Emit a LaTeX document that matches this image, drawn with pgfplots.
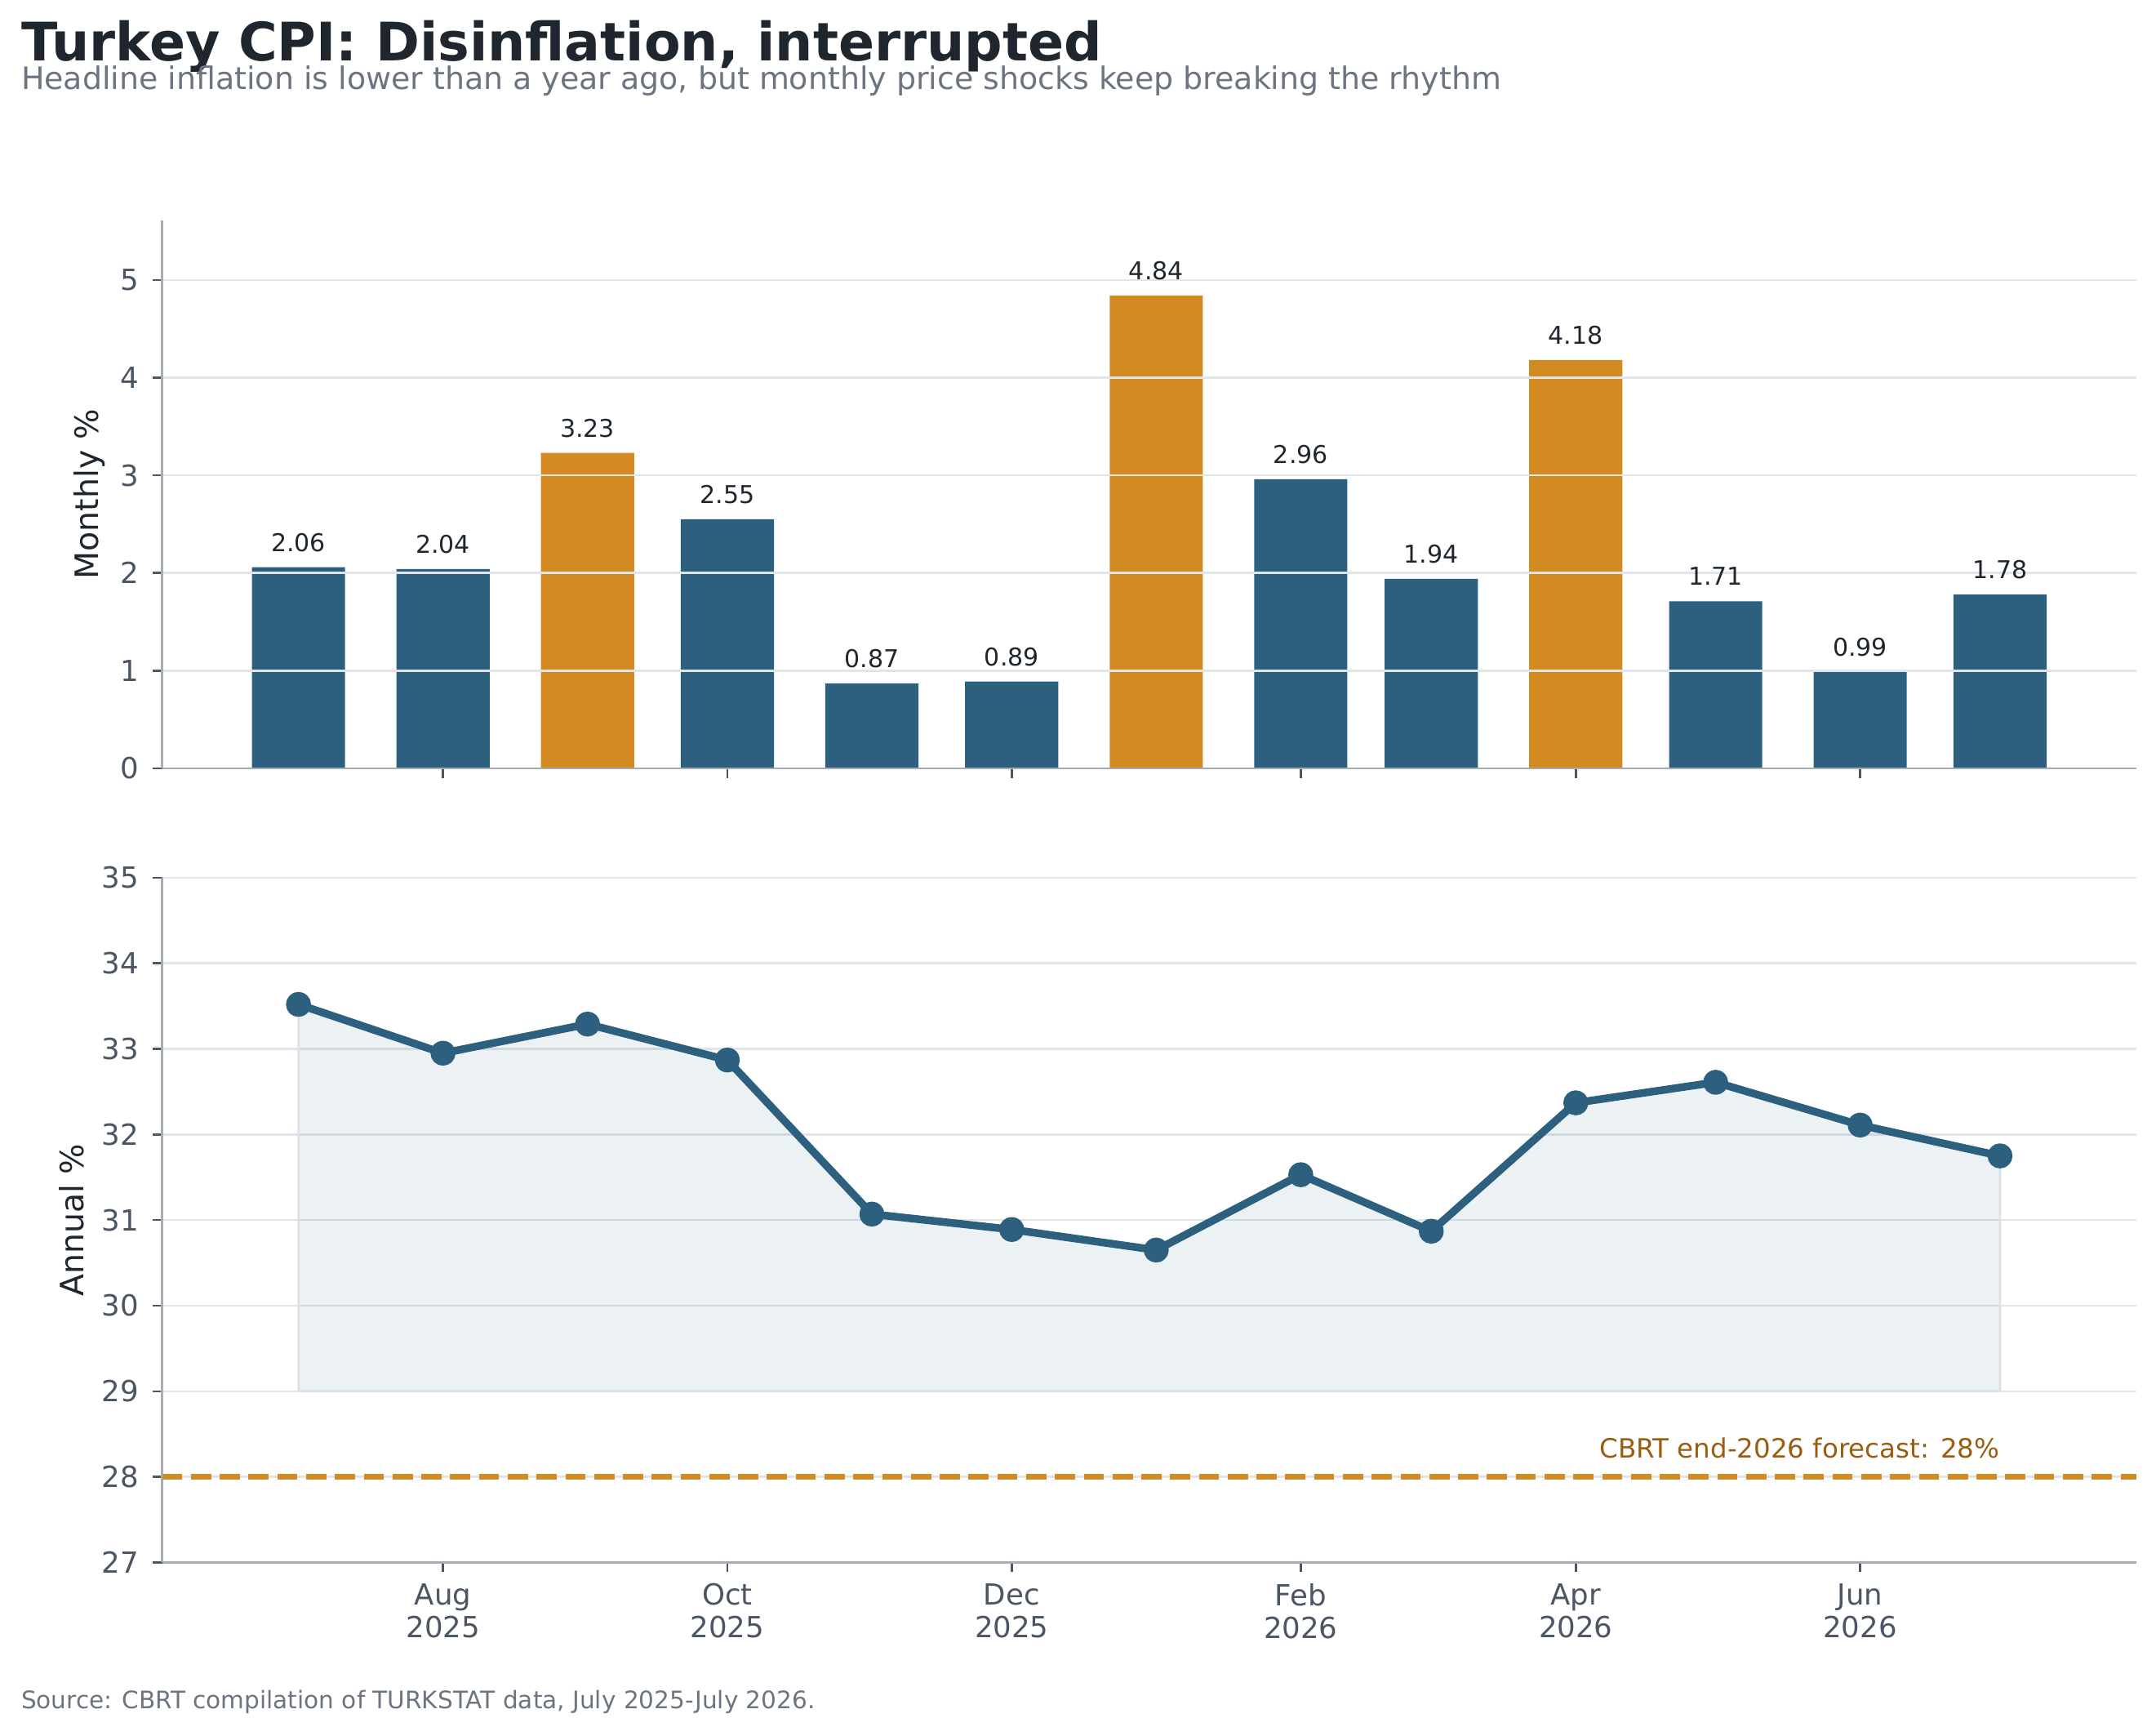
\documentclass[border=0pt]{standalone}
\usepackage{fontspec}
\setmainfont{DejaVu Sans}
\usepackage{pgfplots}
\pgfplotsset{compat=1.18}
\usepackage{pgfplotstable}
\pgfplotsset{/pgf/number format/assume math mode=true}
\definecolor{barblue}{HTML}{2D5F7F}
\definecolor{barorange}{HTML}{D38A21}
\definecolor{gridc}{HTML}{E1E5E9}
\definecolor{spinec}{HTML}{A6ACB3}
\definecolor{tickc}{HTML}{4B5563}
\definecolor{titlec}{HTML}{1F262E}
\definecolor{subc}{HTML}{6B7480}
\definecolor{filledge}{HTML}{DCE2E8}
\definecolor{annc}{HTML}{9A5D10}

% days since 1 Jul 2025
\pgfplotstableread{
x m
0 2.06
31 2.04
92 2.55
123 0.87
153 0.89
215 2.96
243 1.94
304 1.71
335 0.99
365 1.78
}\mblue
\pgfplotstableread{
x m
62 3.23
184 4.84
274 4.18
}\morange
\pgfplotstableread{
x a
0 33.52
31 32.95
62 33.29
92 32.87
123 31.07
153 30.89
184 30.65
215 31.53
243 30.87
274 32.37
304 32.61
335 32.11
365 31.75
}\annual

\pgfplotsset{
  cpibase/.style={
    scale only axis, anchor=south west, width=870.6pt,
    xmin=-29.25, xmax=394.25,
    axis x line*=bottom, axis y line*=left,
    axis line style={-, spinec, line width=0.9pt},
    ymajorgrids, xmajorgrids=false,
    major grid style={gridc, line width=0.9pt},
    tick align=outside, major tick length=4.3pt,
    tick style={tickc, line width=0.9pt},
    xtick={31,92,153,215,274,335},
    yticklabel style={anchor=east, inner sep=0pt, xshift=-5.9pt, font=\fontsize{12.8}{15}\selectfont, text=tickc},
  },
}

\begin{document}
\begin{tikzpicture}
\useasboundingbox (0,0) rectangle (950.76pt,765.36pt);

\node[anchor=base west, inner sep=0pt, font=\fontsize{23.4}{28}\selectfont\bfseries, text=titlec] at (9.2pt,738.4pt) {Turkey CPI: Disinflation, interrupted};
\node[anchor=base west, inner sep=0pt, font=\fontsize{13.65}{16}\selectfont, text=subc] at (9.2pt,725.8pt) {Headline inflation is lower than a year ago, but monthly price shocks keep breaking the rhythm};
\node[anchor=base west, inner sep=0pt, font=\fontsize{10.63}{13}\selectfont, text=subc] at (9.2pt,11.9pt) {Source: CBRT compilation of TURKSTAT data, July 2025-July 2026.};

\begin{axis}[cpibase,
  at={(71.5pt,426.6pt)}, height=241.6pt,
  axis on top,
  ymin=0, ymax=5.61, ytick={0,1,2,3,4,5},
  xticklabels={},
  ylabel={Monthly \%},
  every axis y label/.style={at={(axis description cs:-0.0369,0.5)}, rotate=90, anchor=center, font=\fontsize{14.2}{17}\selectfont, text=titlec},
  nodes near coords={\pgfmathprintnumber[fixed,fixed zerofill,precision=2]{\pgfplotspointmeta}},
  every node near coord/.style={anchor=base, inner sep=0pt, yshift=7pt, font=\fontsize{10.8}{13}\selectfont, text=titlec},
]
\addplot[ybar, bar width=20, bar shift=0pt, fill=barblue, draw=none] table[x=x,y=m]{\mblue};
\addplot[ybar, bar width=20, bar shift=0pt, fill=barorange, draw=none] table[x=x,y=m]{\morange};
\end{axis}

\begin{axis}[cpibase,
  at={(71.5pt,76.5pt)}, height=301.9pt,
  ymin=27, ymax=35, ytick={27,28,...,35},
  xticklabels={{Aug\\2025},{Oct\\2025},{Dec\\2025},{Feb\\2026},{Apr\\2026},{Jun\\2026}},
  xticklabel style={align=center, anchor=north, inner sep=0pt, yshift=-4.9pt, font=\fontsize{12.8}{14.3}\selectfont, text=tickc},
  ylabel={Annual \%},
  every axis y label/.style={at={(axis description cs:-0.0457,0.5)}, rotate=90, anchor=center, font=\fontsize{14.2}{17}\selectfont, text=titlec},
]
\addplot[fill=barblue, fill opacity=0.09, draw=filledge, draw opacity=1, line width=1pt] table[x=x,y=a]{\annual} |- (0,29) -- cycle;
\addplot[barorange, line width=2.4pt, dash pattern=on 8.9pt off 3.8pt] coordinates {(-29.25,28) (394.25,28)};
\addplot[barblue, line width=3.4pt, line join=round, mark=*, mark size=3.8pt, mark options={solid, fill=barblue, draw=none}] table[x=x,y=a]{\annual};
\node[anchor=base east, inner sep=0pt, text=annc, font=\fontsize{11.7}{14}\selectfont] at (axis cs:365,28.22) {CBRT end-2026 forecast: 28\%};
\end{axis}
\end{tikzpicture}
\end{document}
